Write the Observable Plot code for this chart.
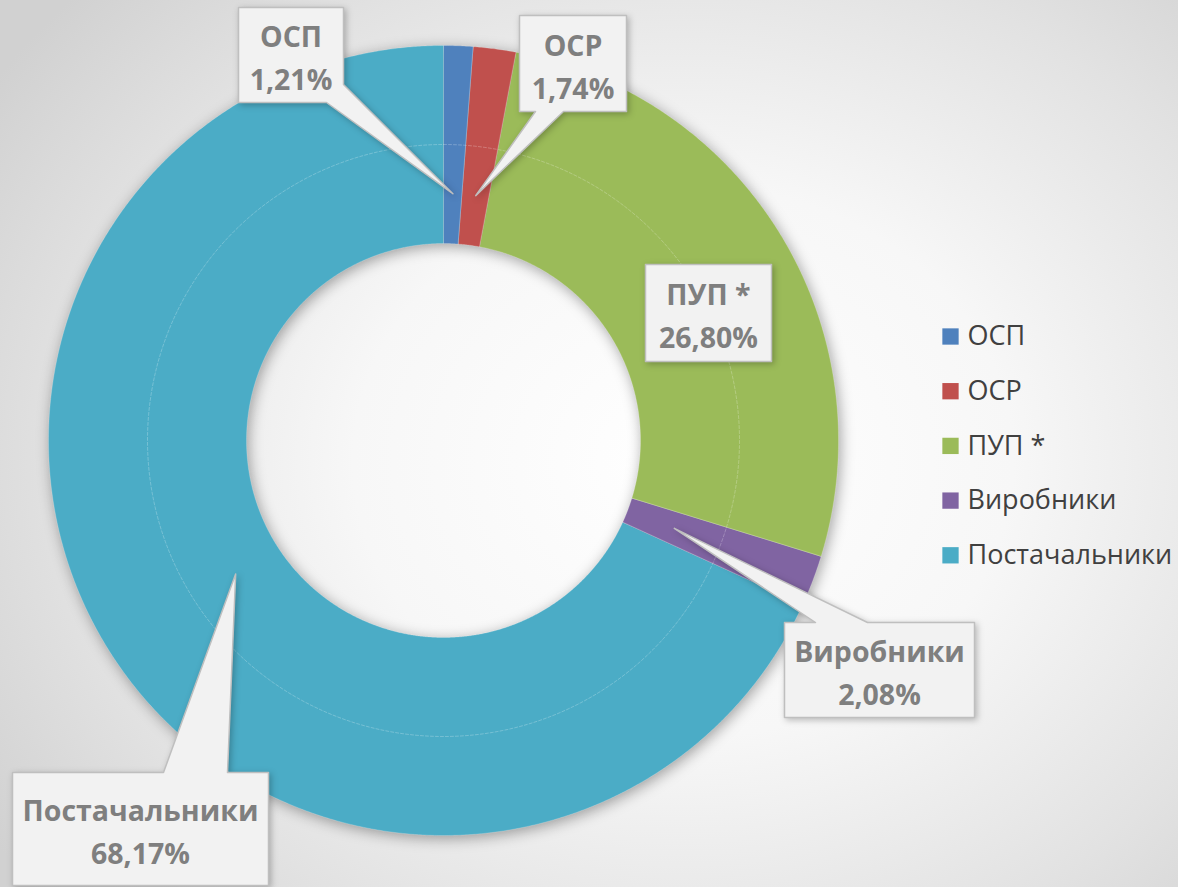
<!DOCTYPE html>
<html><head><meta charset="utf-8">
<script src="https://cdn.jsdelivr.net/npm/d3@7"></script>
<script src="https://cdn.jsdelivr.net/npm/@observablehq/plot@0.6"></script>
<style>
html,body{margin:0;padding:0;}
body{width:1178px;height:887px;overflow:hidden;
background: radial-gradient(ellipse 70% 78% at 58% 52%, #ffffff 0%, #f7f7f7 40%, #e2e2e2 75%, #d1d1d1 100%);
font-family:"Open Sans",sans-serif;}
#chart svg{display:block;background:transparent;}
</style></head><body><div id="chart"></div>
<script>
// ---- data ----
const categories = ["ОСП", "ОСР", "ПУП *", "Виробники", "Постачальники"];
const shares = [1.21, 1.74, 26.80, 2.08, 68.17];
const valueLabels = ["1,21%", "1,74%", "26,80%", "2,08%", "68,17%"];
const colors = ["#4F81BD", "#C0504D", "#9BBB59", "#8064A2", "#4BACC6"];

// ---- layout (screen pixels) ----
const W = 1178, H = 887;
const CX = 443, CY = 440;
const R_OUT = 395, R_IN = 197, R_MID = 296, R_TIP = 247;
const toX = sx => sx - CX, toY = sy => CY - sy;
// callout boxes: [left, top, right, bottom], pointer attach side
const boxes = [
  {b: [238, 7, 343, 102], side: "corner-br", base: [[343, 84], [326, 102]]},
  {b: [519, 15, 626, 111], side: "bottom", base: [[563, 111], [535, 111]]},
  {b: [645, 264, 771, 361], side: null},
  {b: [784, 622, 974, 717], side: "top", base: [[815, 622], [867, 622]]},
  {b: [12, 772, 268, 885], side: "top", base: [[163, 772], [227, 772]]}
];
const legendX = 950, legendY0 = 336, legendStep = 54.7;

// ---- geometry from data ----
const total = d3.sum(shares);
let acc = 0;
const slices = categories.map((k, i) => {
  const a0 = acc / total * 2 * Math.PI;
  acc += shares[i];
  const a1 = acc / total * 2 * Math.PI;
  return {key: k, a0, a1, mid: (a0 + a1) / 2, i};
});
const pol = (r, a) => [r * Math.sin(a), r * Math.cos(a)];
const donutPts = [];
for (const s of slices) {
  const n = Math.max(2, Math.ceil((s.a1 - s.a0) / 0.005));
  for (let j = 0; j <= n; j++) {
    const a = s.a0 + (s.a1 - s.a0) * j / n;
    const [x, y] = pol(R_OUT, a);
    donutPts.push({key: s.key, x, y});
  }
  for (let j = n; j >= 0; j--) {
    const a = s.a0 + (s.a1 - s.a0) * j / n;
    const [x, y] = pol(R_IN, a);
    donutPts.push({key: s.key, x, y});
  }
}
const midPts = d3.range(0, 721).map(j => {
  const [x, y] = pol(R_MID, j / 720 * 2 * Math.PI);
  return {x, y};
});

const calloutPts = [];
const calloutText = [];
slices.forEach((s, i) => {
  const {b, side, base} = boxes[i];
  const [l, t, r, btm] = b;
  const [tx, ty] = pol(R_TIP, s.mid);
  const tip = [tx + CX, CY - ty];
  let pts;
  if (side === "corner-br") pts = [[l, t], [r, t], base[0], tip, base[1], [l, btm]];
  else if (side === "bottom") pts = [[l, t], [r, t], [r, btm], base[0], tip, base[1], [l, btm]];
  else if (side === "top") pts = [[l, t], base[0], tip, base[1], [r, t], [r, btm], [l, btm]];
  else pts = [[l, t], [r, t], [r, btm], [l, btm]];
  pts.forEach(p => calloutPts.push({key: s.key, x: toX(p[0]), y: toY(p[1])}));
  calloutText.push({x: toX((l + r) / 2), y: toY((t + btm) / 2), text: s.key + "\n" + valueLabels[i]});
});

const legendRows = categories.map((k, i) => ({key: k, x: toX(legendX), y: toY(legendY0 + i * legendStep)}));

const chart = Plot.plot({
  width: W, height: H,
  margin: 0,
  x: {domain: [-CX, W - CX], range: [0, W], axis: null},
  y: {domain: [CY - H, CY], range: [H, 0], axis: null},
  color: {type: "ordinal", domain: categories, range: colors},
  style: {fontFamily: "'Open Sans', sans-serif", background: "transparent"},
  marks: [
    Plot.line(donutPts, {x: "x", y: "y", z: "key", fill: "key", stroke: "#ffffff", strokeOpacity: 0.25, strokeWidth: 0.8, curve: "linear-closed"}),
    Plot.line(midPts, {x: "x", y: "y", stroke: "#ffffff", strokeOpacity: 0.3, strokeWidth: 0.8, strokeDasharray: "3,2", curve: "linear-closed"}),
    Plot.line(calloutPts, {x: "x", y: "y", z: "key", fill: "#f2f2f2", stroke: "#bfbfbf", strokeWidth: 1.5, curve: "linear-closed"}),
    Plot.text(calloutText, {x: "x", y: "y", text: "text", fill: "#7f7f7f", fontSize: 28.5, fontWeight: "bold", lineHeight: 1.5, textAnchor: "middle"}),
    Plot.dot(legendRows, {x: "x", y: "y", fill: "key", symbol: "square", r: 9.2, stroke: null}),
    Plot.text(legendRows, {x: "x", y: "y", text: "key", dx: 17, textAnchor: "start", fill: "#404040", fontSize: 27})
  ]
});
document.getElementById("chart").appendChild(chart);
const lines = chart.querySelectorAll('g[aria-label="line"]');
if (lines[0]) lines[0].style.filter = "drop-shadow(2px 3px 7px rgba(0,0,0,0.35))";
if (lines[2]) lines[2].style.filter = "drop-shadow(2px 2px 3px rgba(0,0,0,0.25))";
</script></body></html>
